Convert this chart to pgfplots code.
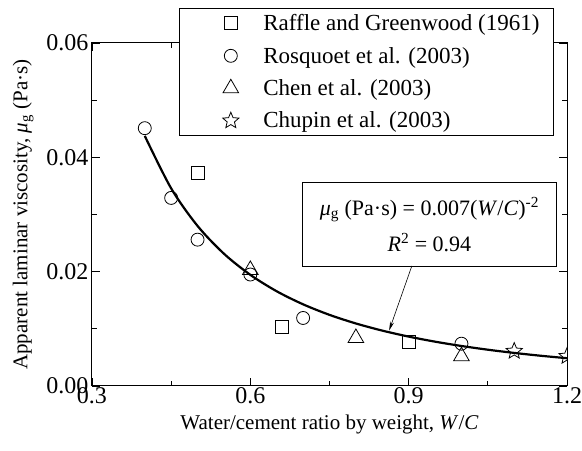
\documentclass[border=0pt]{standalone}
\usepackage{pgfplots}
\pgfplotsset{compat=1.18}
\usetikzlibrary{arrows.meta}
\usepackage{fontspec}
\setmainfont{Liberation Serif}
\pgfdeclareplotmark{ostar}{%
  \pgfpathmoveto{\pgfpointpolar{90}{\pgfplotmarksize}}%
  \pgfpathlineto{\pgfpointpolar{126}{0.45\pgfplotmarksize}}%
  \pgfpathlineto{\pgfpointpolar{162}{\pgfplotmarksize}}%
  \pgfpathlineto{\pgfpointpolar{198}{0.45\pgfplotmarksize}}%
  \pgfpathlineto{\pgfpointpolar{234}{\pgfplotmarksize}}%
  \pgfpathlineto{\pgfpointpolar{270}{0.45\pgfplotmarksize}}%
  \pgfpathlineto{\pgfpointpolar{306}{\pgfplotmarksize}}%
  \pgfpathlineto{\pgfpointpolar{342}{0.45\pgfplotmarksize}}%
  \pgfpathlineto{\pgfpointpolar{18}{\pgfplotmarksize}}%
  \pgfpathlineto{\pgfpointpolar{54}{0.45\pgfplotmarksize}}%
  \pgfpathclose\pgfusepathqstroke}
\begin{document}
\begin{tikzpicture}
\begin{axis}[
  scale only axis, width=475pt, height=343pt,
  xmin=0.3, xmax=1.2, ymin=0, ymax=0.06,
  xtick={0.3,0.6,0.9,1.2},
  ytick={0,0.02,0.04,0.06},
  scaled y ticks=false, scaled x ticks=false,
  /pgf/number format/assume math mode=true,
  xticklabel={\pgfmathprintnumber[fixed,fixed zerofill,precision=1,assume math mode=true]{\tick}},
  yticklabel={\pgfmathprintnumber[fixed,fixed zerofill,precision=2,assume math mode=true]{\tick}},
  xticklabel style={yshift=2pt},
  minor x tick num=1, minor y tick num=1,
  tick align=inside, major tick length=8pt, minor tick length=5pt,
  axis line style={line width=1pt},
  every tick/.style={black, line width=0.8pt},
  tick label style={font=\fontsize{24}{28}\selectfont},
  xlabel={Water/cement ratio by weight, \textit{W}/\textit{C}},
  ylabel={Apparent laminar viscosity, \textit{μ}\textsubscript{g} (Pa·s)},
  label style={font=\fontsize{21}{25}\selectfont},
  xlabel style={yshift=-4pt},
  ylabel style={yshift=6pt},
  clip marker paths=true,
  legend cell align=left,
  legend image code/.code={%
    \path[draw=none] (-31pt,0pt) -- (17pt,0pt);
    \draw[#1] plot coordinates {(8.5pt,0pt)};},
  legend style={at={(rel axis cs:0.183,1)}, anchor=north west, yshift=35pt,
    draw=black, line width=0.8pt, fill=white,
    font=\fontsize{23}{27}\selectfont,
    inner xsep=12pt, inner ysep=4pt,
    nodes={inner sep=2pt}, row sep=11pt,
    /tikz/every odd column/.append style={column sep=22pt}},
]
\addplot[only marks, mark=square, mark size=6.5pt, line width=0.8pt] coordinates {
 (0.5,0.0373) (0.66,0.0103) (0.9,0.0077)};
\addlegendentry{Raffle and Greenwood (1961)}
\addplot[only marks, mark=o, mark size=6.5pt, line width=0.8pt] coordinates {
 (0.4,0.0451) (0.45,0.0329) (0.5,0.0256) (0.6,0.0195) (0.7,0.0119) (1.0,0.0074)};
\addlegendentry{Rosquoet et al. (2003)}
\addplot[only marks, mark=triangle, mark size=9pt, line width=0.8pt] coordinates {
 (0.6,0.0203) (0.8,0.0084) (1.0,0.0052)};
\addlegendentry{Chen et al. (2003)}
\addplot[only marks, mark=ostar, mark size=8.5pt, line width=0.8pt] coordinates {
 (1.1,0.0061) (1.2,0.0052)};
\addlegendentry{Chupin et al. (2003)}
\addplot[black, line width=2.2pt, smooth, forget plot] coordinates {
 (0.40,0.04375) (0.45,0.034568) (0.50,0.028) (0.55,0.023140) (0.60,0.019444)
 (0.65,0.016568) (0.70,0.014286) (0.75,0.012444) (0.80,0.010938) (0.85,0.009689)
 (0.90,0.008642) (0.95,0.007756) (1.00,0.007) (1.05,0.006349) (1.10,0.005785)
 (1.15,0.005293) (1.20,0.004861)};
\node[draw, fill=white, line width=0.8pt, minimum width=254pt, minimum height=84pt,
  anchor=north west, align=center, font=\fontsize{22}{36}\selectfont]
  at (axis cs:0.698,0.0357)
  {\textit{μ}\textsubscript{g} (Pa·s) = 0.007(\textit{W}/\textit{C})\textsuperscript{-2}\\
   \textit{R}\textsuperscript{2} = 0.94};
\draw[-{Stealth[length=9pt,width=4pt]}, line width=0.6pt]
  (axis cs:0.906,0.0210) -- (axis cs:0.863,0.0097);
\coordinate (bl) at (rel axis cs:0,0);
\coordinate (tr) at (rel axis cs:1,1);
\end{axis}
\pgfresetboundingbox
\path ([shift={(-92pt,-65pt)}]bl) rectangle ([shift={(15pt,43pt)}]tr);
\end{tikzpicture}
\end{document}
